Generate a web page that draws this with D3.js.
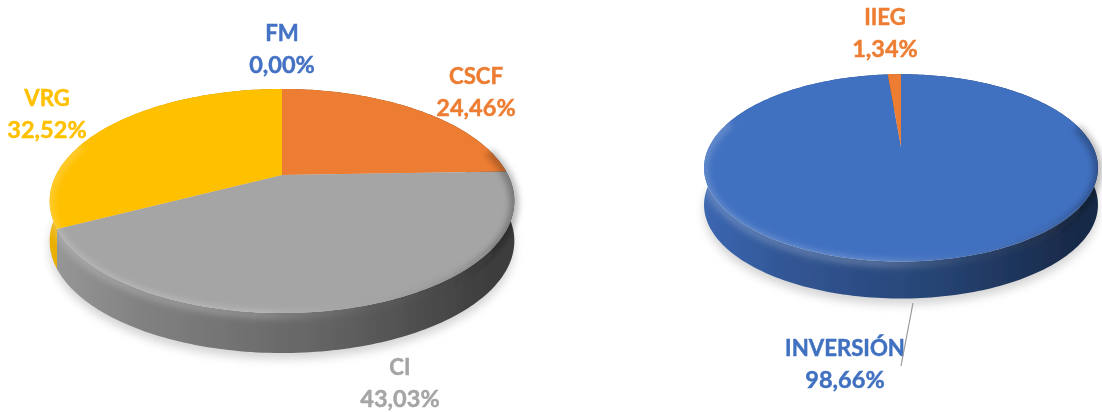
<!DOCTYPE html>
<html>
<head>
<meta charset="utf-8">
<script src="https://cdn.jsdelivr.net/npm/d3@7"></script>
<style>
  html, body { margin: 0; padding: 0; background: #fff; }
  svg { display: block; }
  text { font-family: Lato, "Open Sans", sans-serif; font-weight: 700; font-size: 23.5px; text-anchor: middle; stroke-width: 0.45px; }
  .name { font-size: 22.2px; }
</style>
</head>
<body>
<div id="chart"></div>
<script>
// values
const leftCategories = ['FM', 'CSCF', 'CI', 'VRG'];
const leftValues = [0.00, 24.46, 43.03, 32.52];
const leftColors = ['#4472c4', '#ed7d31', '#a5a5a5', '#ffc000'];

const rightCategories = ['INVERSIÓN', 'IIEG'];
const rightValues = [98.66, 1.34];
const rightColors = ['#4070c0', '#ed7d31'];

const WIDTH = 1102, HEIGHT = 412;

// layout of each pie: apex position, radii, perspective and wall depth
const leftLayout = {id: 'l', cx: 282, cy: 175, rx: 226, ry: 106, k: 0.232, depth: 40, x0: 50, x1: 514};
const rightLayout = {id: 'r', cx: 901, cy: 147, rx: 192, ry: 89, k: 0.223, depth: 37, x0: 704, x1: 1098};

// label placement, in order of the categories
const leftLabels = [{x: 282, y: 41}, {x: 476, y: 84}, {x: 400, y: 375}, {x: 47, y: 106}];
const rightLabels = [{x: 845, y: 356}, {x: 885, y: 25}];

const svg = d3.select('#chart').append('svg')
    .attr('width', WIDTH)
    .attr('height', HEIGHT);
const defs = svg.append('defs');

[['blurSoft', 0.7], ['blurRim', 3], ['blurShadow', 5], ['blurText', 0.35]].forEach(([id, dev]) => {
    defs.append('filter').attr('id', id)
        .attr('x', '-10%').attr('y', '-20%').attr('width', '120%').attr('height', '140%')
        .append('feGaussianBlur').attr('stdDeviation', dev);
});

const lineGen = d3.line();

//maps a pie angle (clockwise from 12 o'clock) to the tilted disc
function project(layout, angle, radius = 1){
    const x = radius * Math.sin(angle);
    const y = -radius * Math.cos(angle);
    const w = 1 - layout.k * y;
    return [layout.cx + layout.rx * x / w, layout.cy + layout.ry * y / w];
}

function edgePoints(layout, a0, a1, shift = 0){
    const steps = Math.max(2, Math.ceil((a1 - a0) / 0.02));
    return d3.range(steps + 1).map(i => {
        const p = project(layout, a0 + (a1 - a0) * i / steps);
        return [p[0], p[1] + shift];
    });
}

function addWallGradient(id, layout, color){
    const base = d3.rgb(color);
    const shades = [0.92, 0.78, 0.6, 0.37];
    const offsets = [0, 0.2, 0.6, 0.95];
    const grad = defs.append('linearGradient').attr('id', id)
        .attr('gradientUnits', 'userSpaceOnUse')
        .attr('x1', layout.x0).attr('x2', layout.x1).attr('y1', 0).attr('y2', 0);
    shades.forEach((s, i) => {
        grad.append('stop')
            .attr('offset', offsets[i])
            .attr('stop-color', d3.rgb(base.r * s, base.g * s, base.b * s));
    });
}

function drawPie(layout, categories, values, colors, labels){
    const color = d3.scaleOrdinal().domain(categories).range(colors);
    const slices = d3.pie().sort(null)(values);
    const g = svg.append('g');

    // soft shadow under the disc
    g.append('path')
        .attr('d', lineGen(edgePoints(layout, 0, 2 * Math.PI, layout.depth + 6)) + 'Z')
        .attr('fill', '#d4d4d4')
        .attr('filter', 'url(#blurShadow)');

    const pieGroup = g.append('g').attr('filter', 'url(#blurSoft)');

    // walls
    slices.forEach((s, i) => {
        if(s.endAngle - s.startAngle <= 0) return;
        const gradId = 'wall-' + layout.id + i;
        addWallGradient(gradId, layout, color(categories[i]));
        const top = edgePoints(layout, s.startAngle, s.endAngle);
        const bottom = edgePoints(layout, s.startAngle, s.endAngle, layout.depth).reverse();
        pieGroup.append('path')
            .attr('d', lineGen(top.concat(bottom)) + 'Z')
            .attr('fill', 'url(#' + gradId + ')');
    });

    // top face
    slices.forEach((s, i) => {
        if(s.endAngle - s.startAngle <= 0) return;
        const pts = [project(layout, 0, 0)].concat(edgePoints(layout, s.startAngle, s.endAngle));
        pieGroup.append('path')
            .attr('d', lineGen(pts) + 'Z')
            .attr('fill', color(categories[i]));
    });

    // bevel along the rim: light at the front left, dark at the right
    const rimId = 'rim-' + layout.id;
    const rim = defs.append('linearGradient').attr('id', rimId)
        .attr('gradientUnits', 'userSpaceOnUse')
        .attr('x1', layout.x0).attr('x2', layout.x1).attr('y1', 0).attr('y2', 0);
    rim.append('stop').attr('offset', 0).attr('stop-color', '#fff').attr('stop-opacity', 0.2);
    rim.append('stop').attr('offset', 0.45).attr('stop-color', '#fff').attr('stop-opacity', 0.22);
    rim.append('stop').attr('offset', 0.7).attr('stop-color', '#888').attr('stop-opacity', 0.1);
    rim.append('stop').attr('offset', 1).attr('stop-color', '#000').attr('stop-opacity', 0.3);
    g.append('path')
        .attr('d', lineGen(edgePoints(layout, Math.PI * 0.42, Math.PI * 1.6, 2)))
        .attr('fill', 'none')
        .attr('stroke', 'url(#' + rimId + ')')
        .attr('stroke-width', 8)
        .attr('filter', 'url(#blurRim)');

    // labels
    categories.forEach((name, i) => {
        const label = g.append('text')
            .attr('x', labels[i].x)
            .attr('y', labels[i].y)
            .attr('fill', color(name))
            .attr('stroke', color(name))
            .attr('filter', 'url(#blurText)');
        label.append('tspan').attr('class', 'name').attr('x', labels[i].x).text(name);
        label.append('tspan').attr('x', labels[i].x).attr('dy', 32)
            .text(values[i].toFixed(2).replace('.', ',') + '%');
    });
    return g;
}

drawPie(leftLayout, leftCategories, leftValues, leftColors, leftLabels);
const rightPie = drawPie(rightLayout, rightCategories, rightValues, rightColors, rightLabels);

// leader line of INVERSIÓN
rightPie.append('line')
    .attr('x1', 913).attr('y1', 303)
    .attr('x2', 901).attr('y2', 366)
    .attr('stroke', '#9a9a9a')
    .attr('stroke-width', 1.2);
</script>
</body>
</html>
